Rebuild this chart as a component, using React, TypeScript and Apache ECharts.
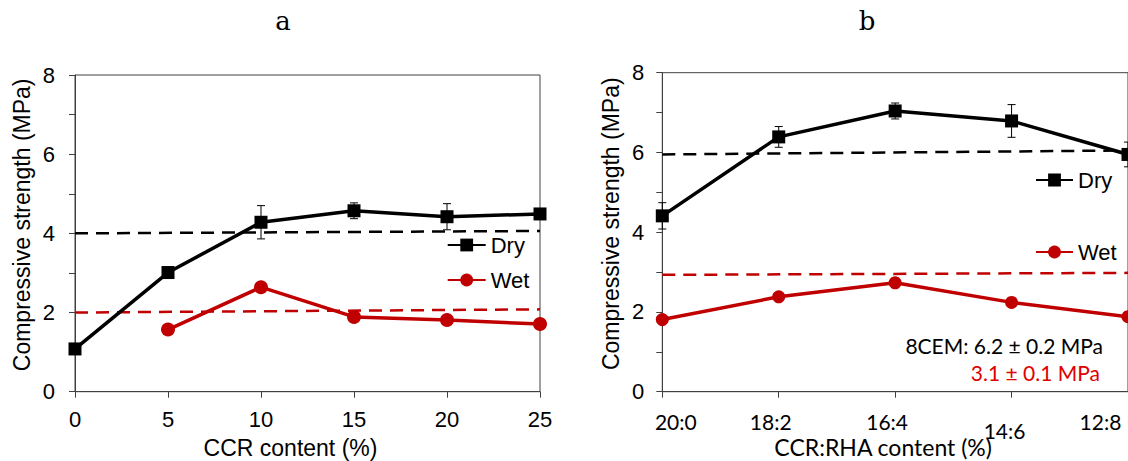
import React, { useEffect, useRef } from "react";
import * as echarts from "echarts";

// ---- Panel a data ----
const ccrContent = [0, 5, 10, 15, 20, 25];
const dryA = [1.08, 3.01, 4.28, 4.57, 4.42, 4.49];
const dryAErr = [0.05, 0.06, 0.42, 0.2, 0.33, 0.08];
const wetA = [null, 1.57, 2.64, 1.89, 1.81, 1.71];
const wetAErr = [null, 0.05, 0.06, 0.05, 0.05, 0.05];
const refDryA = [4.0, 4.06]; // reference (dashed) at x = 0 and x = 25
const refWetA = [2.0, 2.08];

// ---- Panel b data ----
const ratioCats = ["20:0", "18:2", "16:4", "14:6", "12:8"];
const dryB = [4.41, 6.39, 7.04, 6.79, 5.95];
const dryBErr = [0.33, 0.26, 0.2, 0.41, 0.31];
const wetB = [1.81, 2.38, 2.73, 2.24, 1.88];
const wetBErr = [0.05, 0.05, 0.12, 0.05, 0.05];
const refDryB = [5.95, 6.05];
const refWetB = [2.93, 2.98];

const yTicks = [0, 2, 4, 6, 8];

const BLACK = "#000000";
const RED = "#C00000";
const AXIS = "#404040";
const ARIAL = "Liberation Sans, Arial, sans-serif";
const CALIBRI = "Lato, Open Sans, sans-serif";

const errRender = (color: string) => (params: any, api: any) => {
  const x = api.value(0);
  const lo = api.value(1);
  const hi = api.value(2);
  const top = api.coord([x, hi]);
  const bot = api.coord([x, lo]);
  const w = 4;
  const st = { stroke: color, lineWidth: 1 };
  return {
    type: "group",
    children: [
      { type: "line", shape: { x1: top[0], y1: top[1], x2: bot[0], y2: bot[1] }, style: st },
      { type: "line", shape: { x1: top[0] - w, y1: top[1], x2: top[0] + w, y2: top[1] }, style: st },
      { type: "line", shape: { x1: bot[0] - w, y1: bot[1], x2: bot[0] + w, y2: bot[1] }, style: st },
    ],
  };
};

const labelShift: Record<string, string> = {
  "20:0": "c0",
  "18:2": "c1",
  "16:4": "c2",
  "14:6": "c3",
  "12:8": "c4",
};

export default function App() {
  const ref = useRef<HTMLDivElement>(null);
  useEffect(() => {
    if (!ref.current) return;
    const chart = echarts.init(ref.current, undefined, { renderer: "svg" });

    const yAxisCommon = (gridIndex: number, margin: number, gap: number) => ({
      type: "value",
      gridIndex,
      min: yTicks[0],
      max: yTicks[yTicks.length - 1],
      interval: 2,
      name: "Compressive strength (MPa)",
      nameLocation: "middle",
      nameGap: gap,
      nameMoveOverlap: false,
      nameTextStyle: { fontFamily: ARIAL, fontSize: 23, color: "#000", padding: [0, 0, 0, 17] },
      axisLine: { show: true, lineStyle: { color: AXIS, width: 1 } },
      axisTick: { show: true, length: 6, lineStyle: { color: AXIS } },
      minorTick: { show: true, splitNumber: 2, length: 6, lineStyle: { color: AXIS } },
      axisLabel: { fontFamily: ARIAL, fontSize: 22, color: "#000", margin },
      splitLine: { show: false },
      minorSplitLine: { show: false },
    });

    const richCommon = { fontFamily: CALIBRI, fontSize: 21, color: "#000" };

    const option: any = {
      animation: false,
      backgroundColor: "#fff",
      grid: [
        { left: 75, top: 75, width: 465, height: 316.7, show: true, borderColor: AXIS, borderWidth: 1, outerBoundsMode: "none", containLabel: false },
        { left: 662.3, top: 72.7, width: 465.7, height: 319, show: true, borderColor: AXIS, borderWidth: 1, outerBoundsMode: "none", containLabel: false },
      ],
      xAxis: [
        {
          type: "value",
          gridIndex: 0,
          min: 0,
          max: 25,
          interval: 5,
          name: "CCR content (%)",
          nameLocation: "middle",
          nameGap: 45,
          nameMoveOverlap: false,
          nameTextStyle: { fontFamily: ARIAL, fontSize: 23, color: "#000", padding: [0, 34, 0, 0] },
          axisLine: { show: true, onZero: false, lineStyle: { color: AXIS, width: 1 } },
          axisTick: { show: true, length: 6, lineStyle: { color: AXIS } },
          axisLabel: { fontFamily: ARIAL, fontSize: 22, color: "#000", margin: 17 },
          splitLine: { show: false },
        },
        {
          type: "category",
          gridIndex: 1,
          data: ratioCats,
          boundaryGap: false,
          name: "CCR:RHA content (%)",
          nameLocation: "middle",
          nameGap: 44,
          nameMoveOverlap: false,
          nameTextStyle: { fontFamily: CALIBRI, fontSize: 23, color: "#000", padding: [0, 24, 0, 0] },
          axisLine: { show: true, onZero: false, lineStyle: { color: AXIS, width: 1 } },
          axisTick: { show: true, length: 6, alignWithLabel: true, interval: 0, lineStyle: { color: AXIS } },
          axisLabel: {
            interval: 0,
            margin: 19,
            fontFamily: CALIBRI,
            fontSize: 21,
            color: "#000",
            formatter: (v: string) => `{${labelShift[v] || "c2"}|${v}}`,
            rich: {
              c0: { ...richCommon, padding: [0, 0, 0, 27] },
              c1: { ...richCommon, padding: [0, 16, 0, 0] },
              c2: { ...richCommon, padding: [0, 16, 0, 0] },
              c3: { ...richCommon, padding: [9, 14, 0, 0] },
              c4: { ...richCommon, padding: [0, 55, 0, 0] },
            },
          },
          splitLine: { show: false },
        },
      ],
      yAxis: [yAxisCommon(0, 20, 42), yAxisCommon(1, 18, 40)],
      legend: [
        { data: ["Dry"], left: 446.7, top: 234, padding: 0, itemWidth: 38, itemHeight: 16, selectedMode: false, textStyle: { fontFamily: ARIAL, fontSize: 22, color: "#000" } },
        { data: ["Wet"], left: 446.7, top: 269, padding: 0, itemWidth: 38, itemHeight: 16, selectedMode: false, textStyle: { fontFamily: ARIAL, fontSize: 22, color: "#000" } },
        { data: ["Dry"], left: 1035, top: 169, padding: 0, itemWidth: 37, itemHeight: 16, selectedMode: false, textStyle: { fontFamily: ARIAL, fontSize: 22, color: "#000" } },
        { data: ["Wet"], left: 1035, top: 241, padding: 0, itemWidth: 37, itemHeight: 16, selectedMode: false, textStyle: { fontFamily: ARIAL, fontSize: 22, color: "#000" } },
      ],
      graphic: [
        { type: "text", x: 283, y: 21, style: { text: "a", align: "center", verticalAlign: "middle", fontFamily: "DejaVu Serif, serif", fontSize: 26, fill: "#000" } },
        { type: "text", x: 867, y: 21, style: { text: "b", align: "center", verticalAlign: "middle", fontFamily: "DejaVu Serif, serif", fontSize: 26, fill: "#000" } },
        { type: "text", x: 1103, y: 345, style: { text: "8CEM: 6.2 ± 0.2 MPa", align: "right", verticalAlign: "middle", fontFamily: CALIBRI, fontSize: 21, fill: "#000" } },
        { type: "text", x: 1100, y: 372, style: { text: "3.1 ± 0.1 MPa", align: "right", verticalAlign: "middle", fontFamily: CALIBRI, fontSize: 21, fill: "#E00000" } },
      ],
      series: [
        // ---- panel a ----
        {
          type: "line", name: "refDryA", xAxisIndex: 0, yAxisIndex: 0, z: 1, symbol: "none",
          data: [[ccrContent[0], refDryA[0]], [ccrContent[ccrContent.length - 1], refDryA[1]]],
          lineStyle: { color: BLACK, width: 2.5, type: [13, 8] },
        },
        {
          type: "line", name: "refWetA", xAxisIndex: 0, yAxisIndex: 0, z: 1, symbol: "none",
          data: [[ccrContent[0], refWetA[0]], [ccrContent[ccrContent.length - 1], refWetA[1]]],
          lineStyle: { color: RED, width: 2.5, type: [13, 8] },
        },
        {
          type: "custom", name: "errDryA", xAxisIndex: 0, yAxisIndex: 0, z: 2,
          renderItem: errRender(BLACK),
          encode: { x: 0, y: [1, 2] },
          data: ccrContent.map((x, i) => [x, dryA[i] - dryAErr[i], dryA[i] + dryAErr[i]]),
        },
        {
          type: "custom", name: "errWetA", xAxisIndex: 0, yAxisIndex: 0, z: 2,
          renderItem: errRender(RED),
          encode: { x: 0, y: [1, 2] },
          data: ccrContent
            .map((x, i) => (wetA[i] == null ? null : [x, (wetA[i] as number) - (wetAErr[i] as number), (wetA[i] as number) + (wetAErr[i] as number)]))
            .filter((d) => d !== null),
        },
        {
          type: "line", name: "Dry", xAxisIndex: 0, yAxisIndex: 0, z: 3,
          symbol: "rect", symbolSize: 13,
          itemStyle: { color: BLACK },
          lineStyle: { color: BLACK, width: 3.5 },
          data: ccrContent.map((x, i) => [x, dryA[i]]),
        },
        {
          type: "line", name: "Wet", xAxisIndex: 0, yAxisIndex: 0, z: 3,
          symbol: "circle", symbolSize: 14,
          itemStyle: { color: RED },
          lineStyle: { color: RED, width: 3.5 },
          data: ccrContent.map((x, i) => (wetA[i] == null ? null : [x, wetA[i]])).filter((d) => d !== null),
        },
        // ---- panel b ----
        {
          type: "line", name: "refDryB", xAxisIndex: 1, yAxisIndex: 1, z: 1, symbol: "none",
          data: [[0, refDryB[0]], [ratioCats.length - 1, refDryB[1]]],
          lineStyle: { color: BLACK, width: 2.5, type: [13, 8] },
        },
        {
          type: "line", name: "refWetB", xAxisIndex: 1, yAxisIndex: 1, z: 1, symbol: "none",
          data: [[0, refWetB[0]], [ratioCats.length - 1, refWetB[1]]],
          lineStyle: { color: RED, width: 2.5, type: [13, 8] },
        },
        {
          type: "custom", name: "errDryB", xAxisIndex: 1, yAxisIndex: 1, z: 2,
          renderItem: errRender(BLACK),
          encode: { x: 0, y: [1, 2] },
          data: ratioCats.map((_, i) => [i, dryB[i] - dryBErr[i], dryB[i] + dryBErr[i]]),
        },
        {
          type: "custom", name: "errWetB", xAxisIndex: 1, yAxisIndex: 1, z: 2,
          renderItem: errRender(RED),
          encode: { x: 0, y: [1, 2] },
          data: ratioCats.map((_, i) => [i, wetB[i] - wetBErr[i], wetB[i] + wetBErr[i]]),
        },
        {
          type: "line", name: "Dry", xAxisIndex: 1, yAxisIndex: 1, z: 3,
          symbol: "rect", symbolSize: 13,
          itemStyle: { color: BLACK },
          lineStyle: { color: BLACK, width: 3.5 },
          data: ratioCats.map((_, i) => [i, dryB[i]]),
        },
        {
          type: "line", name: "Wet", xAxisIndex: 1, yAxisIndex: 1, z: 3,
          symbol: "circle", symbolSize: 13,
          itemStyle: { color: RED },
          lineStyle: { color: RED, width: 3.5 },
          data: ratioCats.map((_, i) => [i, wetB[i]]),
        },
      ],
    };

    chart.setOption(option);
    return () => chart.dispose();
  }, []);

  return (
    <div
      ref={ref}
      style={{ position: "absolute", left: 0, top: 0, width: 1128, height: 461, background: "#fff" }}
    />
  );
}
